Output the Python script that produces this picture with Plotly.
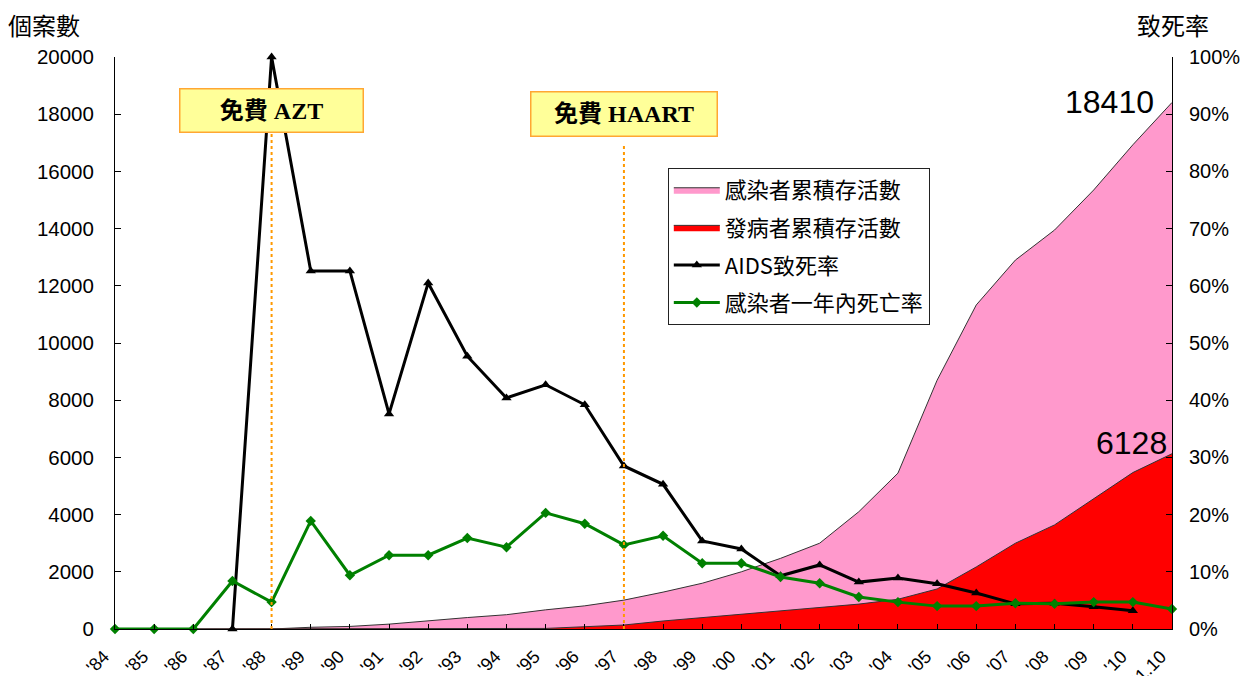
import plotly.graph_objects as go

categories = ["'84", "'85", "'86", "'87", "'88", "'89", "'90", "'91", "'92", "'93",
              "'94", "'95", "'96", "'97", "'98", "'99", "'00", "'01", "'02", "'03",
              "'04", "'05", "'06", "'07", "'08", "'09", "'10", "'11.10"]

# cumulative living infected (cases)
infected_living = [0, 0, 0, 0, 0, 60, 90, 170, 290, 400,
                   500, 670, 810, 1010, 1290, 1600, 2000, 2470, 3000, 4100,
                   5450, 8700, 11330, 12900, 13950, 15350, 16930, 18410]
# cumulative living AIDS patients (cases)
aids_living = [0, 0, 0, 0, 0, 0, 0, 0, 0, 0,
               0, 20, 80, 140, 280, 400, 510, 640, 750, 870,
               1040, 1400, 2170, 3000, 3640, 4570, 5470, 6128]
# AIDS fatality rate
aids_fatality = [None, None, None, 0.0, 1.00, 0.626, 0.626, 0.376, 0.605, 0.477,
                 0.404, 0.427, 0.392, 0.285, 0.253, 0.154, 0.140, 0.093, 0.112, 0.082,
                 0.089, 0.079, 0.063, 0.044, 0.045, 0.039, 0.032, None]
# one-year death rate among infected
infected_1yr_death = [0.0, 0.0, 0.0, 0.084, 0.047, 0.189, 0.094, 0.129, 0.129, 0.159,
                      0.143, 0.203, 0.184, 0.147, 0.163, 0.115, 0.115, 0.091, 0.080, 0.056,
                      0.047, 0.040, 0.040, 0.045, 0.044, 0.047, 0.047, 0.035]

names = ["感染者累積存活數", "發病者累積存活數", "AIDS致死率", "感染者一年內死亡率"]

TXT = "Liberation Sans, Arial, Noto Sans CJK TC, sans-serif"
CJK = "Noto Sans CJK TC, Liberation Sans, sans-serif"

fig = go.Figure()
fig.add_trace(go.Scatter(x=categories, y=infected_living, name=names[0], mode="lines",
                         fill="tozeroy", fillcolor="#FF99CC",
                         line=dict(color="#333333", width=1), legendgroup="a"))
fig.add_trace(go.Scatter(x=categories, y=aids_living, name=names[1], mode="lines",
                         fill="tozeroy", fillcolor="#FF0000",
                         line=dict(color="#333333", width=1), legendgroup="b"))
fig.add_trace(go.Scatter(x=categories, y=aids_fatality, name=names[2], mode="lines+markers",
                         yaxis="y2", line=dict(color="#000000", width=3),
                         marker=dict(symbol="triangle-up", size=9, color="#000000"),
                         cliponaxis=False, legendgroup="c"))
fig.add_trace(go.Scatter(x=categories, y=infected_1yr_death, name=names[3], mode="lines+markers",
                         yaxis="y2", line=dict(color="#008000", width=3),
                         marker=dict(symbol="diamond", size=8, color="#008000"),
                         cliponaxis=False, legendgroup="d"))

# vertical dotted lines
fig.add_shape(type="line", xref="x", yref="paper", x0="'88", x1="'88", y0=0, y1=0.867,
              line=dict(color="#FF9900", width=2, dash="dot"), layer="above")
fig.add_shape(type="line", xref="x", yref="paper", x0="'97", x1="'97", y0=0, y1=0.846,
              line=dict(color="#FF9900", width=2, dash="dot"), layer="above")

box_font = dict(family="Liberation Serif, Times New Roman, Noto Sans CJK TC, serif",
                size=24, color="#000000")
fig.add_annotation(x="'88", y=0.9056, xref="x", yref="paper", text="<b>免費 AZT</b>",
                   showarrow=False, xanchor="center", yanchor="middle",
                   bgcolor="#FFFF99", bordercolor="#FFA733",
                   borderwidth=1.5, borderpad=1, width=180, height=40, font=box_font)
fig.add_annotation(x="'97", y=0.901, xref="x", yref="paper", text="<b>免費 HAART</b>",
                   showarrow=False, xanchor="center", yanchor="middle",
                   bgcolor="#FFFF99", bordercolor="#FFA733",
                   borderwidth=1.5, borderpad=1, width=183, height=41, font=box_font)

fig.add_annotation(x=categories[-1], y=infected_living[-1], xref="x", yref="y",
                   text=str(infected_living[-1]), showarrow=False,
                   xanchor="right", yanchor="middle", xshift=-16, yshift=0,
                   font=dict(family=TXT, size=32, color="#000000"))
fig.add_annotation(x=categories[-1], y=aids_living[-1], xref="x", yref="y",
                   text=str(aids_living[-1]), showarrow=False,
                   xanchor="right", yanchor="middle", xshift=-3, yshift=11,
                   font=dict(family=TXT, size=32, color="#000000"))

fig.add_annotation(x=-0.103, y=1.056, xref="paper", yref="paper", text="個案數",
                   showarrow=False, xanchor="left", yanchor="middle",
                   font=dict(family=CJK, size=24, color="#000000"))
fig.add_annotation(x=1.037, y=1.056, xref="paper", yref="paper", text="致死率",
                   showarrow=False, xanchor="right", yanchor="middle",
                   font=dict(family=CJK, size=24, color="#000000"))

fig.update_layout(
    width=1251, height=668,
    margin=dict(l=107, r=87, t=49, b=47, autoexpand=False),
    paper_bgcolor="white", plot_bgcolor="white",
    showlegend=True,
    legend=dict(x=0.523, y=0.806, xanchor="left", yanchor="top",
                bgcolor="white", bordercolor="#222222", borderwidth=1,
                font=dict(family=CJK, size=22, color="#000000"),
                traceorder="grouped", tracegroupgap=6, itemwidth=46),
    xaxis=dict(type="category", categoryorder="array", categoryarray=categories,
               range=[0, len(categories) - 1], showgrid=False, zeroline=False,
               showline=True, linecolor="#000000", linewidth=1, automargin=False,
               ticks="inside", ticklen=5, tickcolor="#000000", ticklabelstandoff=9,
               ticklabelshift=-11,
               tickangle=-45, tickfont=dict(family=TXT, size=18, color="#000000")),
    yaxis=dict(range=[0, 20000], dtick=2000, tickformat="d", showgrid=False,
               zeroline=False, showline=True, linecolor="#000000", linewidth=1,
               ticks="inside", ticklen=6, tickcolor="#000000", ticklabelstandoff=16,
               automargin=False,
               tickfont=dict(family=TXT, size=20.5, color="#000000")),
    yaxis2=dict(range=[0, 1], dtick=0.1, tickformat=".0%", overlaying="y", side="right",
                showgrid=False, zeroline=False, showline=True, linecolor="#000000",
                linewidth=1, ticks="inside", ticklen=6, tickcolor="#000000",
                ticklabelstandoff=12, automargin=False,
                tickfont=dict(family=TXT, size=20, color="#000000")),
)

fig.write_html("out.html")
